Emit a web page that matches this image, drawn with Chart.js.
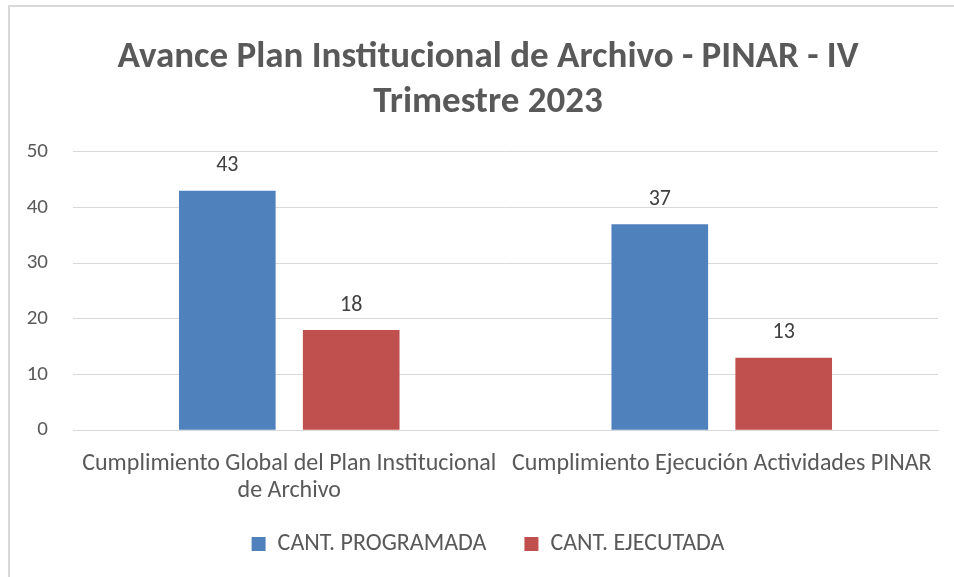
<!DOCTYPE html>
<html>
<head>
<meta charset="utf-8">
<script src="https://cdn.jsdelivr.net/npm/chart.js@4.4.0/dist/chart.umd.min.js"></script>
<style>
    html, body { margin: 0; padding: 0; background: #fff; }
    #wrap {
        position: relative;
        width: 954px;
        height: 577px;
        overflow: hidden;
    }
    #frame {
        position: absolute;
        left: 8px;
        top: 5px;
        width: 960px;
        height: 600px;
        border-top: 2px solid #d9d9d9;
        border-left: 2px solid #d9d9d9;
    }
    canvas { position: absolute; left: 0; top: 0; }
</style>
</head>
<body>
<div id="wrap">
    <div id="frame"></div>
    <canvas id="chart" width="954" height="577"></canvas>
</div>
<script>
// Chart data
const categories = [
    ['Cumplimiento Global del Plan Institucional', 'de Archivo'],
    'Cumplimiento Ejecución Actividades PINAR'
];
const programada = [43, 37];
const ejecutada = [18, 13];
const yTicks = [0, 10, 20, 30, 40, 50];

const FONT = 'Carlito, Lato, "Liberation Sans", sans-serif';
const textGrey = '#595959';

// Draw the value above every bar
const valueLabels = {
    id: 'valueLabels',
    afterDatasetsDraw(chart) {
        const ctx = chart.ctx;
        ctx.save();
        ctx.font = '22px ' + FONT;
        ctx.fillStyle = '#404040';
        ctx.textAlign = 'center';
        ctx.textBaseline = 'middle';
        chart.data.datasets.forEach((ds, i) => {
            chart.getDatasetMeta(i).data.forEach((bar, j) => {
                ctx.fillText(ds.data[j], bar.x, bar.y - 25);
            });
        });
        ctx.restore();
    }
};

// Legend padding is used for both the item gap and the box height;
// keep the wide gap but take the extra height back
const LEGEND_TRIM = 22;
const legendTrim = {
    id: 'legendTrim',
    beforeLayout(chart) {
        const legend = chart.legend;
        if (!legend || legend._trimmed) return;
        legend._trimmed = true;
        const fit = legend.fit;
        legend.fit = function () {
            fit.call(this);
            this.height -= LEGEND_TRIM;
        };
        const draw = legend.draw;
        legend.draw = function () {
            const top = this.top;
            this.top = top - LEGEND_TRIM;
            draw.call(this);
            this.top = top;
        };
    }
};

new Chart(document.getElementById('chart'), {
    type: 'bar',
    data: {
        labels: categories,
        datasets: [
            {
                label: 'CANT. PROGRAMADA',
                data: programada,
                backgroundColor: '#4F81BD',
                categoryPercentage: 0.573,
                barPercentage: 0.78
            },
            {
                label: 'CANT. EJECUTADA',
                data: ejecutada,
                backgroundColor: '#C0504D',
                categoryPercentage: 0.573,
                barPercentage: 0.78
            }
        ]
    },
    options: {
        responsive: false,
        animation: false,
        layout: {
            padding: { left: 22, right: 0, top: 36, bottom: 11 }
        },
        plugins: {
            title: {
                display: true,
                text: ['Avance Plan Institucional de Archivo - PINAR - IV', 'Trimestre 2023'],
                color: textGrey,
                font: { family: FONT, size: 37, weight: 'bold' },
                lineHeight: 1.12,
                padding: { top: 0, bottom: 27 }
            },
            legend: {
                position: 'bottom',
                labels: {
                    color: textGrey,
                    font: { family: FONT, size: 24 },
                    boxWidth: 14,
                    boxHeight: 14,
                    padding: 38
                }
            },
            tooltip: { enabled: false }
        },
        scales: {
            x: {
                grid: { display: false },
                border: { display: true, color: '#d9d9d9', width: 1 },
                ticks: {
                    color: textGrey,
                    font: { family: FONT, size: 24, lineHeight: 1.12 },
                    maxRotation: 0,
                    autoSkip: false,
                    padding: 12
                }
            },
            y: {
                min: 0,
                max: 50,
                afterBuildTicks(axis) {
                    axis.ticks = yTicks.map(v => ({ value: v }));
                },
                afterFit(axis) {
                    axis.width = 51;
                },
                grid: { color: '#d9d9d9', lineWidth: 1, drawTicks: false },
                border: { display: false },
                ticks: {
                    color: textGrey,
                    font: { family: FONT, size: 21 },
                    padding: 25
                }
            },
            // empty strip on the right side of the plot
            yRight: {
                position: 'right',
                grid: { display: false },
                border: { display: false },
                ticks: { display: false },
                afterFit(axis) {
                    axis.width = 16;
                }
            }
        }
    },
    plugins: [valueLabels, legendTrim]
});
</script>
</body>
</html>
